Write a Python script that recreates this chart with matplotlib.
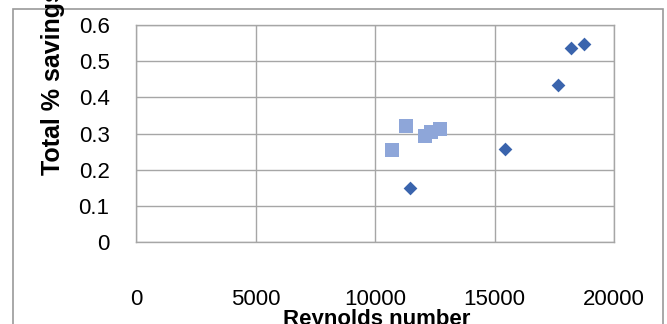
import matplotlib.pyplot as plt
from matplotlib.patches import Rectangle

# data
re_diamond = [11480, 15430, 17660, 18200, 18760]
saving_diamond = [0.149, 0.258, 0.435, 0.537, 0.547]

re_square = [10720, 11300, 12090, 12340, 12730]
saving_square = [0.253, 0.322, 0.294, 0.303, 0.313]

x_ticks = [0, 5000, 10000, 15000, 20000]
y_ticks = [0, 0.1, 0.2, 0.3, 0.4, 0.5, 0.6]
y_labels = ['0', '0.1', '0.2', '0.3', '0.4', '0.5', '0.6']

plt.rcParams['font.family'] = ['Liberation Sans', 'DejaVu Sans']

W, H = 667, 324
fig = plt.figure(figsize=(W / 100, H / 100), dpi=100)
ax = fig.add_axes([136 / W, 1 - 242 / H, (614 - 136) / W, (242 - 25) / H])

grid_col = '#a6a6a6'

# scatter series
ax.scatter(re_square, saving_square, marker='s', s=10.3 ** 2, color='#8ea6d9',
           linewidths=0, zorder=3, clip_on=False)
ax.scatter(re_diamond, saving_diamond, marker='D', s=7.0 ** 2, color='#3a64ad',
           linewidths=0, zorder=4, clip_on=False)

ax.set_xlim(0, 20000)
ax.set_ylim(0, 0.6)
ax.set_xticks(x_ticks)
ax.set_xticklabels([str(v) for v in x_ticks])
ax.set_yticks(y_ticks)
ax.set_yticklabels(y_labels)
ax.tick_params(length=0, labelsize=16, colors='black')
ax.tick_params(axis='x', pad=34)
ax.tick_params(axis='y', pad=19)

ax.grid(True, color=grid_col, linewidth=1)
ax.set_axisbelow(True)
for sp in ax.spines.values():
    sp.set_color(grid_col)
    sp.set_linewidth(1)

# axis titles (the reference shows both cut at the figure edge)
fig.text(53 / W, 1 - 175 / H, 'Total % savings', rotation=90, ha='center', va='bottom',
         fontsize=18, fontweight='bold')
fig.text(377 / W, 1 - 309 / H, 'Reynolds number', ha='center', va='top',
         fontsize=16, fontweight='bold')

# chart area border
fig.patches.append(Rectangle((13 / W, -0.05), (663 - 13) / W, 1 - 9 / H + 0.05,
                             transform=fig.transFigure, fill=False,
                             edgecolor='#9a9a9a', linewidth=1.2))

fig.savefig('out.png', dpi=100)
